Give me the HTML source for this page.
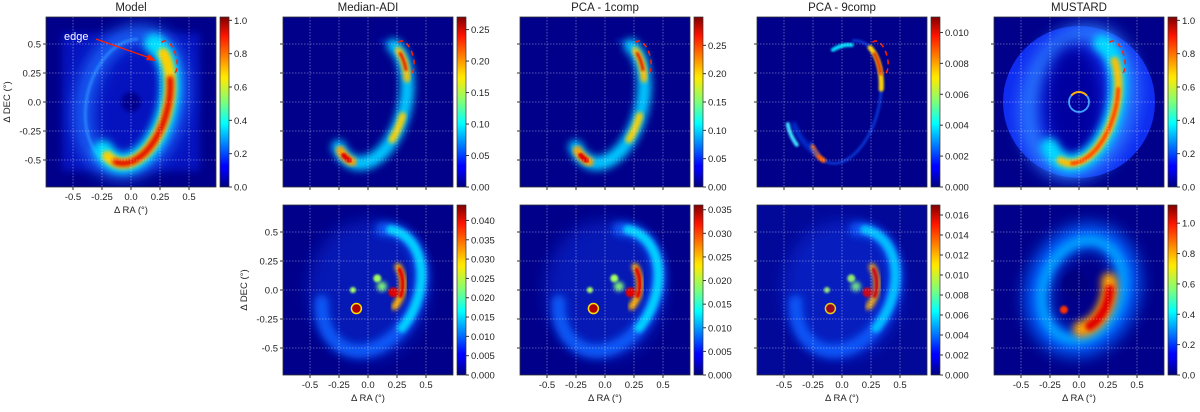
<!DOCTYPE html>
<html><head><meta charset="utf-8"><style>
body{margin:0;background:#fff;font-family:"Liberation Sans","DejaVu Sans",sans-serif;}
svg text{font-family:"Liberation Sans","DejaVu Sans",sans-serif;fill:#222;}
</style></head><body>
<svg id="fig" xmlns="http://www.w3.org/2000/svg" width="1200" height="407" viewBox="0 0 1200 407">
<defs>
<linearGradient id="jet" x1="0" y1="1" x2="0" y2="0">
<stop offset="0" stop-color="#00007f"/><stop offset="0.11" stop-color="#0000ff"/><stop offset="0.125" stop-color="#0000ff"/><stop offset="0.34" stop-color="#00dcff"/><stop offset="0.375" stop-color="#00ffff" /><stop offset="0.5" stop-color="#7dff7a"/><stop offset="0.64" stop-color="#ffea00"/><stop offset="0.66" stop-color="#ffe000"/><stop offset="0.89" stop-color="#ff1300"/><stop offset="1" stop-color="#7f0000"/>
</linearGradient>
<filter id="b8" x="-50%" y="-50%" width="200%" height="200%"><feGaussianBlur stdDeviation="8"/></filter>
<filter id="b4" x="-50%" y="-50%" width="200%" height="200%"><feGaussianBlur stdDeviation="4"/></filter>
<filter id="b2" x="-50%" y="-50%" width="200%" height="200%"><feGaussianBlur stdDeviation="2"/></filter>
<filter id="b1" x="-50%" y="-50%" width="200%" height="200%"><feGaussianBlur stdDeviation="1"/></filter>
</defs>
</svg>
<script>
const panelTitles = ["Model","Median-ADI","PCA - 1comp","PCA - 9comp","MUSTARD"];
const axisTicks = [-0.5,-0.25,0.0,0.25,0.5];
const axisTickLabels = ["-0.5","-0.25","0.0","0.25","0.5"];
const cbMax = [1.02,0.27,0.30,0.011,1.02, 0.044,0.036,0.017,1.12];
const cbTicksTop = [[0,0.2,0.4,0.6,0.8,1.0],[0,0.05,0.1,0.15,0.2,0.25],[0,0.05,0.1,0.15,0.2,0.25],[0,0.002,0.004,0.006,0.008,0.010],[0,0.2,0.4,0.6,0.8,1.0]];
const cbLabelsTop = [["0.0","0.2","0.4","0.6","0.8","1.0"],["0.00","0.05","0.10","0.15","0.20","0.25"],["0.00","0.05","0.10","0.15","0.20","0.25"],["0.000","0.002","0.004","0.006","0.008","0.010"],["0.0","0.2","0.4","0.6","0.8","1.0"]];
const cbTicksBot = [[0,0.005,0.01,0.015,0.02,0.025,0.03,0.035,0.04],[0,0.005,0.01,0.015,0.02,0.025,0.03,0.035],[0,0.002,0.004,0.006,0.008,0.01,0.012,0.014,0.016],[0,0.2,0.4,0.6,0.8,1.0]];
const cbLabelsBot = [["0.000","0.005","0.010","0.015","0.020","0.025","0.030","0.035","0.040"],["0.000","0.005","0.010","0.015","0.020","0.025","0.030","0.035"],["0.000","0.002","0.004","0.006","0.008","0.010","0.012","0.014","0.016"],["0.0","0.2","0.4","0.6","0.8","1.0"]];

const NS="http://www.w3.org/2000/svg";
const fig=document.getElementById('fig');
const S=170, U=116;
function mk(tag,attrs,parent){const e=document.createElementNS(NS,tag);for(const k in attrs)e.setAttribute(k,attrs[k]);(parent||fig).appendChild(e);return e;}
function txt(s,x,y,size,anchor,parent){const t=mk('text',{x:x,y:y,'font-size':size,'text-anchor':anchor||'middle'},parent);t.textContent=s;return t;}
function arc(cx,cy,rx,ry,rot,t1,t2,x0,y0){let p=[];const r=rot*Math.PI/180;for(let i=0;i<=48;i++){const t=(t1+(t2-t1)*i/48)*Math.PI/180;const ex=rx*Math.cos(t),ey=ry*Math.sin(t);const X=cx+ex*Math.cos(r)+ey*Math.sin(r);const Y=cy-ex*Math.sin(r)+ey*Math.cos(r);p.push((x0+85+X*U).toFixed(1)+','+(y0+85-Y*U).toFixed(1));}return 'M'+p.join('L');}

function panel(x0,y0,col,row){
  const g=mk('g',{});
  
  
  mk('clipPath',{id:'c'+col+row},g);
  mk('rect',{x:x0,y:y0,width:S,height:S},document.getElementById('c'+col+row));
  const im=mk('g',{'clip-path':'url(#c'+col+row+')'},g);
  mk('rect',{x:x0,y:y0,width:S,height:S,fill:'#00008a'},im);
  const A=(cx,cy,rx,ry,rot,t1,t2,col2,w,f,op)=>mk('path',{d:arc(cx,cy,rx,ry,rot,t1,t2,x0,y0),fill:'none',stroke:col2,'stroke-width':w,filter:f?'url(#'+f+')':'', 'stroke-linecap':'round',opacity:op||1},im);
  const dot=(x,y,r,c,f)=>mk('circle',{cx:x0+85+x*U,cy:y0+85-y*U,r:r,fill:c,filter:f?'url(#'+f+')':''},im);
  const E=[0.02,0,0.3,0.54,14];
  if(row===0){
    if(col===0){
      mk('rect',{x:x0+16,y:y0+16,width:138,height:138,fill:'#0a2cff',filter:'url(#b4)',opacity:0.45},im);
      A(0.0,0,0.4,0.6,14,0,360,'#1a6cff',16,'b8');
      A(-0.02,0,0.36,0.55,14,100,260,'#2a8cff',3,'b1',0.8);
      A(...E,-120,80,'#00e0ff',20,'b4');
      A(...E,-110,60,'#ffd000',11,'b2');
      A(...E,-95,30,'#e00000',6,'b2');
      dot(0,0,10,'#000090','b2');
    } else if(col===4){
      mk('circle',{cx:x0+85,cy:y0+85,r:76,fill:'#0f2cf0'},im);
      A(0.0,0,0.42,0.6,14,0,360,'#2a7cff',18,'b8');
      mk('ellipse',{cx:x0+80,cy:y0+85,rx:30,ry:58,fill:'#0000a0',filter:'url(#b8)'},im);
      A(...E,-125,80,'#00d8ff',18,'b4');
      A(...E,-100,50,'#ffc000',8,'b2');
      A(...E,-80,20,'#ff5000',4,'b1');
      mk('circle',{cx:x0+85,cy:y0+85,r:10,fill:'none',stroke:'#40a0ff','stroke-width':1.8},im);
      mk('path',{d:arc(0,0,0.086,0.086,0,40,140,x0,y0),fill:'none',stroke:'#ffb000','stroke-width':2},im);
    } else if(col===3){
      A(...E,-130,100,'#0a40e0',3,'b1',0.8);
      A(...E,20,70,'#ffd000',5,'b1');
      A(...E,35,60,'#e01000',2.5,'b1');
      A(0.0,0.05,0.3,0.45,14,95,125,'#00e0ff',4,'b1');
      A(-0.05,-0.05,0.42,0.48,20,215,240,'#40e0ff',4,'b1');
      A(...E,-125,-100,'#ff6000',5,'b1');
      A(0.1,0,0.55,0.55,0,200,235,'#0050ff',3,'b2');
    } else {
      A(...E,-130,100,'#0030d0',3,'b2',0.6);
      A(...E,-125,75,'#00c8ff',14,'b4');
      A(...E,-120,-95,'#ffa000',9,'b2');
      A(...E,-112,-100,'#e00000',5,'b1');
      A(...E,-30,-5,'#ffd000',7,'b2');
      A(...E,30,65,'#ffc000',7,'b2');
      A(...E,40,60,'#e02000',3,'b1');
    }
    mk('path',{d:arc(0.32,0.38,0.07,0.15,-15,-70,110,x0,y0),fill:'none',stroke:'#ff2000','stroke-width':1.5,'stroke-dasharray':'5,4'},im);
  } else {
    if(col===4){
      A(0.03,0,0.38,0.48,20,0,360,'#0060ff',24,'b8');
      A(0.03,0,0.34,0.44,20,0,360,'#00a0ff',10,'b4');
      A(0.05,-0.05,0.2,0.3,20,-70,40,'#ffa000',16,'b4');
      A(0.05,-0.05,0.2,0.3,20,-50,25,'#e00000',9,'b2');
      dot(-0.03,0.05,13,'#000080','b1');
      dot(-0.13,-0.17,4,'#ff3000','b1');
    } else {
      const noise = col===3;
      mk('ellipse',{cx:x0+85,cy:y0+85,rx:60,ry:70,fill:'#0a30e0',filter:'url(#b8)',opacity:0.5},im);
      A(0.03,0,0.4,0.55,25,-150,110,'#0a60ff',14,'b4',0.9);
      A(0.03,0,0.4,0.55,25,-20,100,'#00d0ff',9,'b2');
      A(0.0,0.05,0.3,0.3,0,-40,30,'#ffb000',7,'b2');
      A(0.0,0.05,0.3,0.3,0,-20,25,'#e00000',4,'b1');
      dot(0.22,-0.02,5,'#e00000','b1');
      dot(0.08,0.1,4,'#a0ff60','b1');
      dot(0.12,0.03,5,'#7df07a','b2');
      dot(-0.13,0.0,3,'#a0ff60','b1');
      mk('circle',{cx:x0+85-0.1*U,cy:y0+85+0.16*U,r:5,fill:'#b00000',stroke:'#ffe000','stroke-width':1.5},im);
      if(noise){mk('rect',{x:x0,y:y0,width:S,height:S,fill:'#1040ff',opacity:0.12},im);}
    }
  }
  axisTicks.forEach(v=>{
    mk('line',{x1:x0+85+v*U,x2:x0+85+v*U,y1:y0,y2:y0+S,stroke:'#fff','stroke-opacity':0.45,'stroke-width':0.8,'stroke-dasharray':'1.5,1.5'},g);
    mk('line',{y1:y0+85-v*U,y2:y0+85-v*U,x1:x0,x2:x0+S,stroke:'#fff','stroke-opacity':0.45,'stroke-width':0.8,'stroke-dasharray':'1.5,1.5'},g);
    mk('line',{x1:x0+85+v*U,x2:x0+85+v*U,y1:y0+S,y2:y0+S+3,stroke:'#333'},g);
    mk('line',{x1:x0-3,x2:x0,y1:y0+85-v*U,y2:y0+85-v*U,stroke:'#333'},g);
  });
  mk('rect',{x:x0,y:y0,width:S,height:S,fill:'none',stroke:'#333','stroke-width':0.8},g);
  const xl=(col===0&&row===0)||row===1, yl=(col===0&&row===0)||(col===1&&row===1);
  if(xl){axisTicks.forEach((v,i)=>txt(axisTickLabels[i],x0+85+v*U,y0+S+13,9.5,'middle',g));
    const t=txt('Δ RA (°)',x0+85,y0+S+26,9.5,'middle',g);}
  if(yl){axisTicks.forEach((v,i)=>txt(axisTickLabels[i],x0-5,y0+85-v*U+3.5,9.5,'end',g));
    const t=txt('Δ DEC (°)',0,0,9.5,'middle',g);t.setAttribute('transform','translate('+(x0-36)+','+(y0+85)+') rotate(-90)');}
  if(row===0){const t=txt(panelTitles[col],x0+85,y0-6,11.5,'middle',g);}
  const cb=mk('g',{},g);
  
  
  const cx=x0+S+4, mx=cbMax[row?4+col:col];
  mk('rect',{x:cx,y:y0,width:9,height:S,fill:'url(#jet)',stroke:'#333','stroke-width':0.7},cb);
  const tk=row?cbTicksBot[col-1]:cbTicksTop[col], lb=row?cbLabelsBot[col-1]:cbLabelsTop[col];
  tk.forEach((v,i)=>{const yy=y0+S-v/mx*S;mk('line',{x1:cx+9,x2:cx+12,y1:yy,y2:yy,stroke:'#333'},cb);txt(lb[i],cx+14,yy+3.5,9.5,'start',cb);});
}
const xs=[46,283,520,757,994];
xs.forEach((x,i)=>panel(x,17,i,0));
[1,2,3,4].forEach(i=>panel(xs[i],205,i,1));
const ann=mk('g',{});


const et=txt('edge',64,40,11,'start',ann);et.setAttribute('style','fill:#fff');
mk('line',{x1:96,y1:39,x2:150,y2:58,stroke:'#ff2000','stroke-width':1.3},ann);
mk('path',{d:'M156,61 L146,60 L149,54 Z',fill:'#ff2000'},ann);
</script>
</body></html>
